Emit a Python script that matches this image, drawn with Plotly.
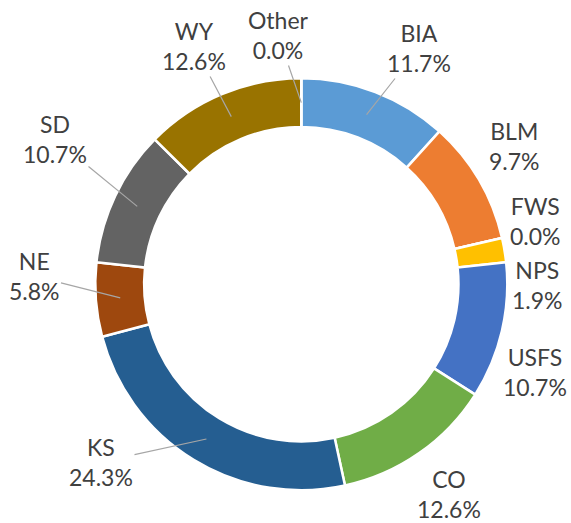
import math
import plotly.graph_objects as go

labels = ["BIA", "BLM", "FWS", "NPS", "USFS", "CO", "KS", "NE", "SD", "WY", "Other"]
shares = [11.7, 9.7, 0.0, 1.9, 10.7, 12.6, 24.3, 5.8, 10.7, 12.6, 0.0]
colors = ["#5B9BD5", "#ED7D31", "#A5A5A5", "#FFC000", "#4472C4", "#70AD47",
          "#255E91", "#9E480E", "#636363", "#997300", "#43682B"]

# label centres in pixels and whether Excel drew a leader line
label_pos = [(419, 48), (514, 146), (535, 221), (537, 285), (535, 372), (449, 494),
             (101, 462), (34, 276), (55, 139), (194, 46), (278, 35)]
leader = [True, False, False, False, False, False, True, True, True, True, True]

W, H = 571, 523
cx, cy, R = 301.3, 284.2, 206.0
hole = 0.763

fig = go.Figure(go.Pie(
    labels=labels, values=shares, sort=False, direction="clockwise", rotation=0,
    hole=hole, marker=dict(colors=colors, line=dict(color="white", width=2.5)),
    textinfo="none", showlegend=False,
    domain=dict(x=[(cx - R) / W, (cx + R) / W], y=[1 - (cy + R) / H, 1 - (cy - R) / H]),
))

total = sum(shares)
acc = 0
rmid = R * (1 + hole) / 2
for lab, v, (lx, ly), ld in zip(labels, shares, label_pos, leader):
    ang = math.radians((acc + v / 2) / total * 360)
    acc += v
    tx = cx + rmid * math.sin(ang)
    ty = cy - rmid * math.cos(ang)
    fig.add_annotation(
        x=tx / W, y=1 - ty / H, xref="paper", yref="paper",
        ax=lx - tx, ay=ly - ty,
        text=f"{lab}<br>{v:.1f}%", showarrow=True, arrowhead=0, arrowwidth=1.2,
        arrowcolor="#A6A6A6" if ld else "rgba(0,0,0,0)",
        font=dict(family="Lato", size=23, color="#404040"),
    )

fig.update_layout(width=W, height=H, margin=dict(l=0, r=0, t=0, b=0),
                  paper_bgcolor="white", plot_bgcolor="white")
fig.write_html("out.html", config={"displayModeBar": False},
               post_script="document.body.style.margin='0';document.body.style.overflow='hidden';")
